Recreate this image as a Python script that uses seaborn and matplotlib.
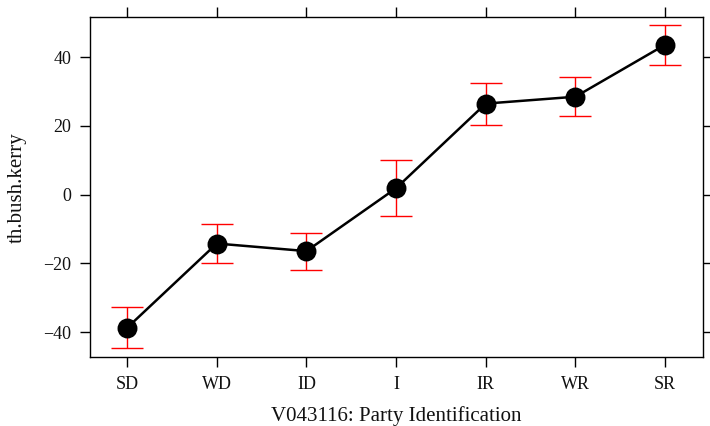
import matplotlib
matplotlib.use("Agg")
import matplotlib.pyplot as plt
import seaborn as sns
import numpy as np

categories = ["SD", "WD", "ID", "I", "IR", "WR", "SR"]
estimates = [-38.7, -14.2, -16.4, 1.9, 26.5, 28.5, 43.6]
lower = [-44.7, -20.0, -21.9, -6.3, 20.4, 22.8, 37.7]
upper = [-32.8, -8.4, -11.0, 10.0, 32.6, 34.2, 49.5]
yticks = [-40, -20, 0, 20, 40]

sns.set_style("white")
plt.rcParams["font.family"] = ["Liberation Serif", "DejaVu Serif"]

fig = plt.figure(figsize=(7.1, 4.26), dpi=100)
ax = fig.add_axes([89.5 / 710, 1 - 357 / 426, (702.7 - 89.5) / 710, (357 - 17.3) / 426])

x = np.arange(len(categories))
est = np.array(estimates)
yerr = np.vstack([est - np.array(lower), np.array(upper) - est])
ax.errorbar(x, est, yerr=yerr, fmt="none", ecolor="#ff0000", elinewidth=1.0,
            capsize=11.5, capthick=1.0, zorder=1)

sns.pointplot(x=categories, y=estimates, order=categories, color="black",
              markers="o", markersize=13, linewidth=1.8, errorbar=None, ax=ax,
              zorder=3)

ax.set_xlim(-0.42, 6.42)
ax.set_ylim(-47.2, 51.6)
ax.set_yticks(yticks)
ax.set_yticklabels([str(v).replace("-", "\u2212") for v in yticks])
ax.set_xticks(x)
ax.set_xticklabels(categories)

for s in ax.spines.values():
    s.set_visible(True)
    s.set_color("black")
    s.set_linewidth(1.0)

ax.tick_params(axis="both", which="both", direction="out", length=7, width=1.0,
               color="black", labelsize=13, labelcolor="#111111")
ax.tick_params(axis="x", top=True, labeltop=False, bottom=True, pad=7)
ax.tick_params(axis="y", right=True, labelright=False, left=True, pad=6)

ax.set_xlabel("V043116: Party Identification", fontsize=15, color="#111111", labelpad=9)
ax.set_ylabel("th.bush.kerry", fontsize=15, color="#111111", labelpad=12)

fig.savefig("out.png", dpi=100)
